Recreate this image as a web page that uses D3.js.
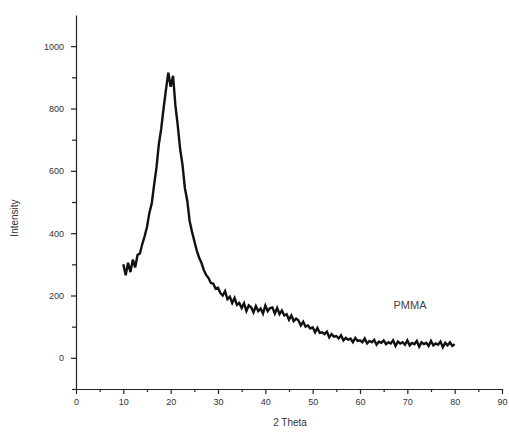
<!DOCTYPE html>
<html>
<head>
<meta charset="utf-8">
<script src="https://cdn.jsdelivr.net/npm/d3@7"></script>
<style>
  body { margin: 0; background: #fff; }
  svg { display: block; font-family: "Liberation Sans", Arial, sans-serif; }
</style>
</head>
<body>
<div id="chart"></div>
<script>
// 2 theta positions (degrees)
const theta = [
  10, 10.5, 11, 11.5, 12, 12.5, 13, 13.5, 14, 14.5, 15, 15.5, 16, 16.5, 17, 17.5, 18, 18.5, 19, 19.5,
  20, 20.5, 21, 21.5, 22, 22.5, 23, 23.5, 24, 24.5, 25, 25.5, 26, 26.5, 27, 27.5, 28, 28.5, 29, 29.5,
  30, 30.5, 31, 31.5, 32, 32.5, 33, 33.5, 34, 34.5, 35, 35.5, 36, 36.5, 37, 37.5, 38, 38.5, 39, 39.5,
  40, 40.5, 41, 41.5, 42, 42.5, 43, 43.5, 44, 44.5, 45, 45.5, 46, 46.5, 47, 47.5, 48, 48.5, 49, 49.5,
  50, 50.5, 51, 51.5, 52, 52.5, 53, 53.5, 54, 54.5, 55, 55.5, 56, 56.5, 57, 57.5, 58, 58.5, 59, 59.5,
  60, 60.5, 61, 61.5, 62, 62.5, 63, 63.5, 64, 64.5, 65, 65.5, 66, 66.5, 67, 67.5, 68, 68.5, 69, 69.5,
  70, 70.5, 71, 71.5, 72, 72.5, 73, 73.5, 74, 74.5, 75, 75.5, 76, 76.5, 77, 77.5, 78, 78.5, 79, 79.5,
  80
];

// intensity
const intensity = [
  300, 265, 305, 275, 315, 290, 330, 335, 365, 390, 420, 465, 495, 555, 610, 685, 735, 800, 860, 915,
  870, 905, 810, 745, 670, 620, 545, 505, 440, 405, 375, 345, 322, 305, 282, 266, 256, 240, 238, 222,
  225, 208, 200, 214, 188, 196, 176, 192, 170, 176, 160, 175, 150, 168, 162, 146, 166, 150, 158, 142,
  168, 150, 160, 162, 142, 160, 140, 152, 136, 140, 122, 136, 118, 126, 120, 104, 116, 100, 104, 94,
  98, 82, 96, 80, 82, 76, 84, 66, 76, 68, 70, 62, 72, 56, 64, 58, 62, 50, 64, 54,
  56, 50, 62, 46, 54, 50, 58, 42, 52, 48, 56, 44, 50, 46, 56, 38, 52, 46, 50, 42,
  56, 40, 48, 44, 54, 36, 50, 44, 48, 38, 54, 40, 46, 42, 52, 34, 48, 40, 50, 38,
  44
];

const xTicks = [0, 10, 20, 30, 40, 50, 60, 70, 80, 90];
const xMinor = [5, 15, 25, 35, 45, 55, 65, 75, 85];
const yTicks = [0, 200, 400, 600, 800, 1000];
const yMinor = [-100, 100, 300, 500, 700, 900];

const width = 509, height = 435;
const svg = d3.select("#chart").append("svg")
    .attr("width", width)
    .attr("height", height);

const x = d3.scaleLinear().domain([0, 90]).range([76, 502]);
const y = d3.scaleLinear().domain([-100, 1100]).range([389, 15]);

// minor ticks first, then the main axes on top
svg.append("g")
    .attr("transform", "translate(0,389)")
    .call(d3.axisBottom(x).tickValues(xMinor).tickSize(3).tickFormat(""))
    .call(g => g.select(".domain").remove());
svg.append("g")
    .attr("transform", "translate(76,0)")
    .call(d3.axisLeft(y).tickValues(yMinor).tickSize(4).tickFormat(""))
    .call(g => g.select(".domain").remove());

svg.append("g")
    .attr("transform", "translate(0,389)")
    .call(d3.axisBottom(x).tickValues(xTicks).tickSize(5).tickSizeOuter(0).tickPadding(5));
svg.append("g")
    .attr("transform", "translate(76,0)")
    .call(d3.axisLeft(y).tickValues(yTicks).tickFormat(d3.format("d")).tickSize(5).tickSizeOuter(0).tickPadding(7));

svg.selectAll(".tick line, .domain").attr("stroke", "#222").attr("stroke-width", 1.2);
svg.selectAll(".tick text").attr("fill", "#333").style("font-size", "9px");

// the pattern
const line = d3.line()
    .x((d, i) => x(theta[i]))
    .y(d => y(d));

svg.append("path")
    .datum(intensity)
    .attr("fill", "none")
    .attr("stroke", "#111")
    .attr("stroke-width", 2.4)
    .attr("stroke-linejoin", "miter")
    .attr("d", line);

// labels
svg.append("text")
    .attr("x", 410)
    .attr("y", 309)
    .attr("text-anchor", "middle")
    .attr("fill", "#444")
    .style("font-size", "11px")
    .text("PMMA");

svg.append("text")
    .attr("x", 290)
    .attr("y", 426)
    .attr("text-anchor", "middle")
    .attr("fill", "#333")
    .style("font-size", "10px")
    .text("2 Theta");

svg.append("text")
    .attr("transform", "translate(18,218) rotate(-90)")
    .attr("text-anchor", "middle")
    .attr("fill", "#333")
    .style("font-size", "10px")
    .text("Intensity");
</script>
</body>
</html>
